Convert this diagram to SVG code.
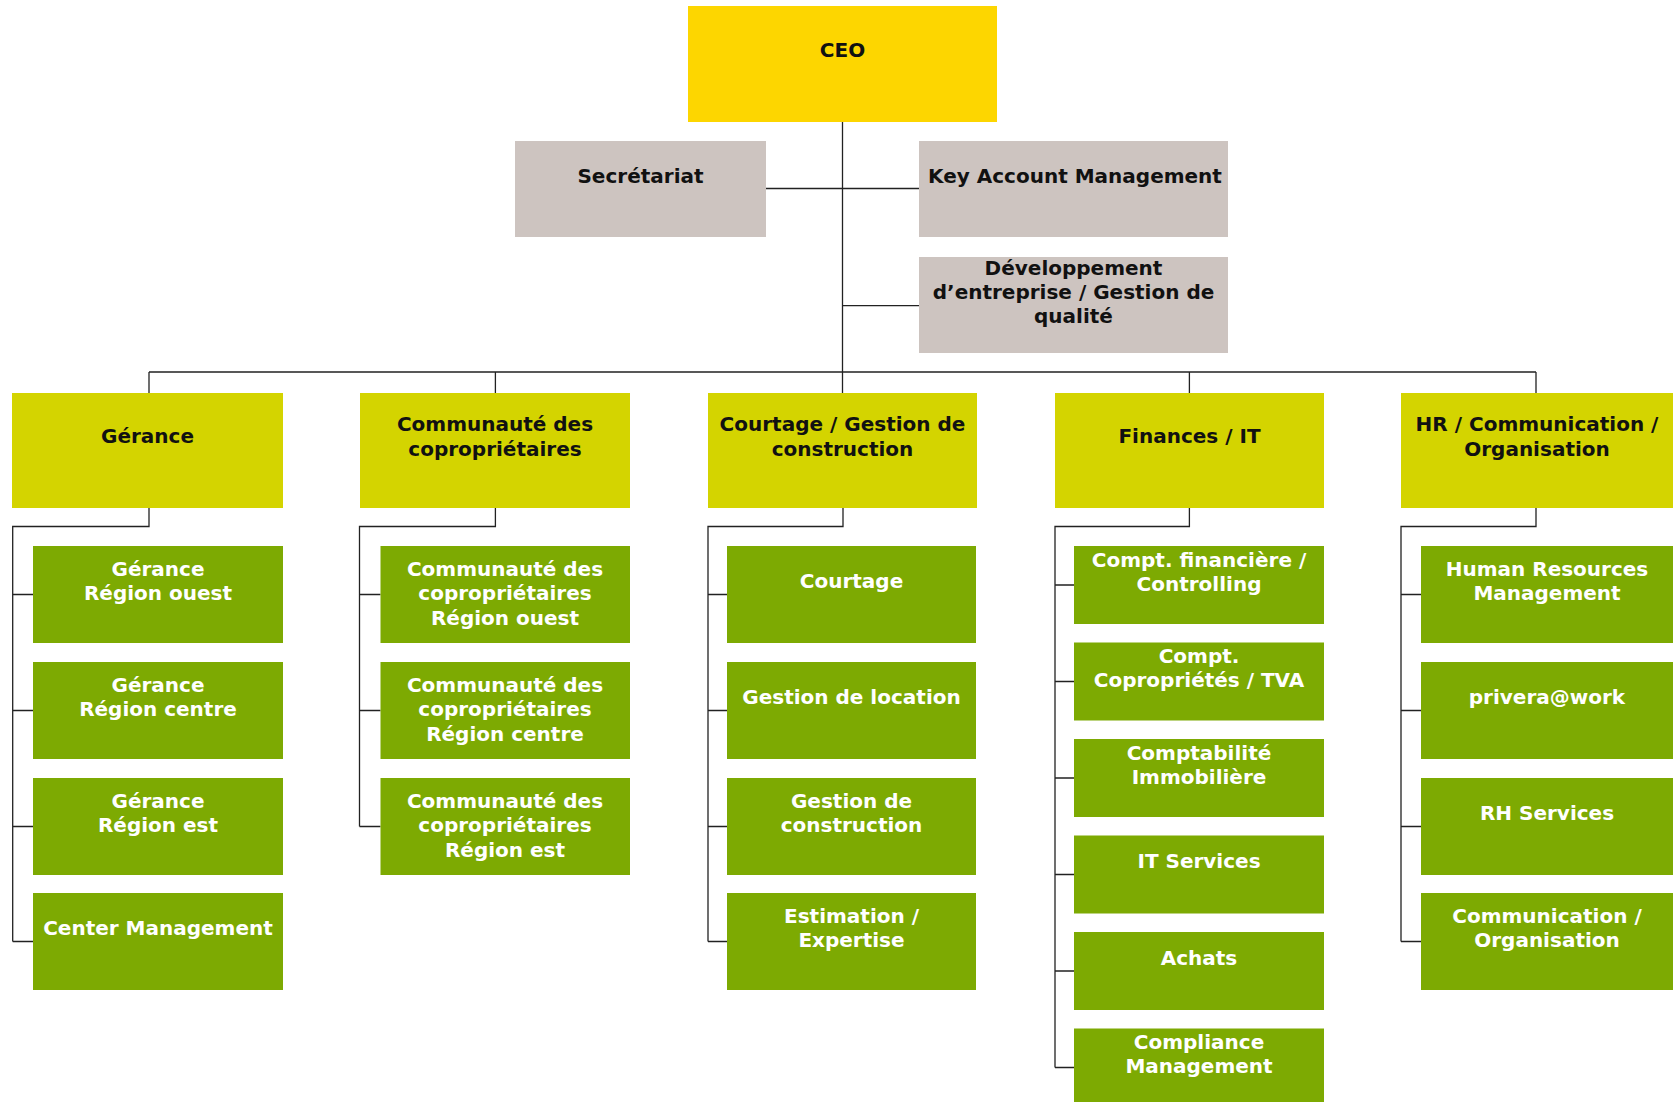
<svg xmlns="http://www.w3.org/2000/svg" width="1679" height="1102" viewBox="0 0 1679 1102">
<style>
text{font-family:"DejaVu Sans","Verdana","Liberation Sans",sans-serif;font-weight:bold;font-size:20px;text-anchor:middle}
.ceo{fill:#FDD600}
.staff{fill:#CDC4C0}
.l2{fill:#D4D400}
.l3{fill:#7DAA02}
.dk{fill:#111}
.wt{fill:#FFFFFF}
.con{fill:none;stroke:#222;stroke-width:1.3}
</style>
<rect width="1679" height="1102" fill="#FFFFFF"/>
<g id="connectors" class="con">
<path d="M842.5 122V393"/>
<path d="M766 188.5H919"/>
<path d="M842.5 305.7H919"/>
<path d="M149 372H1536M149 372V393M495.4 372V393M1189.4 372V393M1536 372V393"/>
<path d="M149 508V526.5H12.7V941.5M12.7 594.5H33M12.7 710.5H33M12.7 826.5H33M12.7 941.5H33"/>
<path d="M495.4 508V526.5H359.5V826.5M359.5 594.5H380.5M359.5 710.5H380.5M359.5 826.5H380.5"/>
<path d="M843 508V526.5H708V941.5M708 594.5H727M708 710.5H727M708 826.5H727M708 941.5H727"/>
<path d="M1189.4 508V526.5H1055V1067.5M1055 585H1074M1055 681.5H1074M1055 778H1074M1055 874.5H1074M1055 971H1074M1055 1067.5H1074"/>
<path d="M1536 508V526.5H1401V941.5M1401 594.5H1421M1401 710.5H1421M1401 826.5H1421M1401 941.5H1421"/>
</g>
<g id="ceo"><rect class="ceo" x="688" y="6" width="309" height="116"/><text class="dk" x="842.5" y="57">CEO</text></g>
<g id="secretariat"><rect class="staff" x="515" y="141" width="251" height="96"/><text class="dk" x="640.5" y="183">Secrétariat</text></g>
<g id="kam"><rect class="staff" x="919" y="141" width="309" height="96"/><text class="dk" x="1075" y="183">Key Account Management</text></g>
<g id="dev"><rect class="staff" x="919" y="257" width="309" height="96"/><text class="dk" x="1073.5" y="275">Développement</text><text class="dk" x="1073.5" y="299">d’entreprise / Gestion de</text><text class="dk" x="1073.5" y="323">qualité</text></g>

<g id="gerance"><rect class="l2" x="12" y="393" width="271" height="115"/><text class="dk" x="147.5" y="443">Gérance</text></g>
<g id="communaute"><rect class="l2" x="360" y="393" width="270" height="115"/><text class="dk" x="495" y="431">Communauté des</text><text class="dk" x="495" y="455.5">copropriétaires</text></g>
<g id="courtage"><rect class="l2" x="708" y="393" width="269" height="115"/><text class="dk" x="842.5" y="431">Courtage / Gestion de</text><text class="dk" x="842.5" y="455.5">construction</text></g>
<g id="finances"><rect class="l2" x="1055" y="393" width="269" height="115"/><text class="dk" x="1189.5" y="443">Finances / IT</text></g>
<g id="hr"><rect class="l2" x="1401" y="393" width="272" height="115"/><text class="dk" x="1537" y="431">HR / Communication /</text><text class="dk" x="1537" y="455.5">Organisation</text></g>

<g id="ger-ouest"><rect class="l3" x="33" y="546" width="250" height="97"/><text class="wt" x="158" y="575.5">Gérance</text><text class="wt" x="158" y="600">Région ouest</text></g>
<g id="ger-centre"><rect class="l3" x="33" y="662" width="250" height="97"/><text class="wt" x="158" y="691.5">Gérance</text><text class="wt" x="158" y="716">Région centre</text></g>
<g id="ger-est"><rect class="l3" x="33" y="778" width="250" height="97"/><text class="wt" x="158" y="807.5">Gérance</text><text class="wt" x="158" y="832">Région est</text></g>
<g id="center-mgmt"><rect class="l3" x="33" y="893" width="250" height="97"/><text class="wt" x="158" y="935">Center Management</text></g>

<g id="com-ouest"><rect class="l3" x="380.5" y="546" width="249.5" height="97"/><text class="wt" x="505" y="575.5">Communauté des</text><text class="wt" x="505" y="600">copropriétaires</text><text class="wt" x="505" y="624.5">Région ouest</text></g>
<g id="com-centre"><rect class="l3" x="380.5" y="662" width="249.5" height="97"/><text class="wt" x="505" y="691.5">Communauté des</text><text class="wt" x="505" y="716">copropriétaires</text><text class="wt" x="505" y="740.5">Région centre</text></g>
<g id="com-est"><rect class="l3" x="380.5" y="778" width="249.5" height="97"/><text class="wt" x="505" y="807.5">Communauté des</text><text class="wt" x="505" y="832">copropriétaires</text><text class="wt" x="505" y="856.5">Région est</text></g>

<g id="courtage-c"><rect class="l3" x="727" y="546" width="249" height="97"/><text class="wt" x="851.5" y="588">Courtage</text></g>
<g id="location"><rect class="l3" x="727" y="662" width="249" height="97"/><text class="wt" x="851.5" y="704">Gestion de location</text></g>
<g id="construction"><rect class="l3" x="727" y="778" width="249" height="97"/><text class="wt" x="851.5" y="807.5">Gestion de</text><text class="wt" x="851.5" y="832">construction</text></g>
<g id="estimation"><rect class="l3" x="727" y="893" width="249" height="97"/><text class="wt" x="851.5" y="922.5">Estimation /</text><text class="wt" x="851.5" y="947">Expertise</text></g>

<g id="compt-fin"><rect class="l3" x="1074" y="546" width="250" height="78"/><text class="wt" x="1199" y="566.5">Compt. financière /</text><text class="wt" x="1199" y="590.5">Controlling</text></g>
<g id="compt-copro"><rect class="l3" x="1074" y="642.5" width="250" height="78"/><text class="wt" x="1199" y="663">Compt.</text><text class="wt" x="1199" y="687">Copropriétés / TVA</text></g>
<g id="compt-immo"><rect class="l3" x="1074" y="739" width="250" height="78"/><text class="wt" x="1199" y="759.5">Comptabilité</text><text class="wt" x="1199" y="783.5">Immobilière</text></g>
<g id="it-services"><rect class="l3" x="1074" y="835.5" width="250" height="78"/><text class="wt" x="1199" y="868">IT Services</text></g>
<g id="achats"><rect class="l3" x="1074" y="932" width="250" height="78"/><text class="wt" x="1199" y="964.5">Achats</text></g>
<g id="compliance"><rect class="l3" x="1074" y="1028.5" width="250" height="78"/><text class="wt" x="1199" y="1049">Compliance</text><text class="wt" x="1199" y="1073">Management</text></g>

<g id="hrm"><rect class="l3" x="1421" y="546" width="252" height="97"/><text class="wt" x="1547" y="575.5">Human Resources</text><text class="wt" x="1547" y="600">Management</text></g>
<g id="privera"><rect class="l3" x="1421" y="662" width="252" height="97"/><text class="wt" x="1547" y="704">privera@work</text></g>
<g id="rh-services"><rect class="l3" x="1421" y="778" width="252" height="97"/><text class="wt" x="1547" y="820">RH Services</text></g>
<g id="comm-org"><rect class="l3" x="1421" y="893" width="252" height="97"/><text class="wt" x="1547" y="922.5">Communication /</text><text class="wt" x="1547" y="947">Organisation</text></g>
</svg>
